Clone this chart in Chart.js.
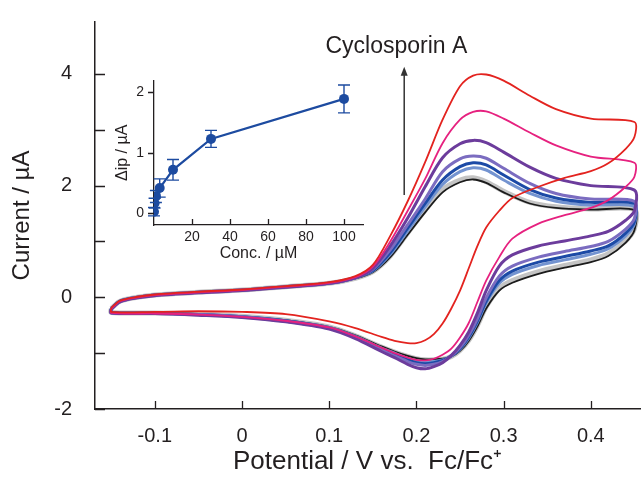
<!DOCTYPE html>
<html>
<head>
<meta charset="utf-8">
<script src="https://cdn.jsdelivr.net/npm/chart.js@4.4.1/dist/chart.umd.min.js"></script>
<style>
  html, body { margin: 0; padding: 0; background: #fff; }
  #wrap { position: relative; width: 642px; height: 478px; }
  #mainChart { position: absolute; left: 0; top: 0; }
  #insetChart { position: absolute; left: 100px; top: 70px; }
</style>
</head>
<body>
<div id="wrap">
  <canvas id="mainChart" width="642" height="478"></canvas>
  <canvas id="insetChart" width="275" height="200"></canvas>
</div>
<script>
// ---- potential grid (V vs Fc/Fc+) : forward (anodic) and reverse (cathodic) sweeps ----
const E_FWD = [-0.15, -0.14, -0.12, -0.10, -0.05, 0.00, 0.05, 0.10, 0.13, 0.15, 0.17, 0.19, 0.21, 0.23, 0.25, 0.265, 0.28, 0.30, 0.33, 0.36, 0.40, 0.45];
const E_REV = [0.45, 0.44, 0.42, 0.40, 0.37, 0.34, 0.31, 0.295, 0.28, 0.27, 0.26, 0.25, 0.24, 0.23, 0.22, 0.21, 0.20, 0.19, 0.175, 0.16, 0.13, 0.10, 0.05, 0.00, -0.05, -0.10, -0.15];

// ---- currents (uA), one pair of arrays per voltammogram ----
const blackFwd = [-0.20, -0.07, 0.00, 0.04, 0.09, 0.13, 0.19, 0.25, 0.34, 0.45, 0.72, 1.12, 1.52, 1.88, 2.06, 2.11, 2.05, 1.88, 1.68, 1.60, 1.57, 1.56];
const blackRev = [1.20, 0.98, 0.74, 0.63, 0.53, 0.42, 0.26, 0.12, -0.20, -0.52, -0.78, -0.96, -1.06, -1.10, -1.11, -1.11, -1.09, -1.05, -0.97, -0.88, -0.68, -0.53, -0.41, -0.34, -0.30, -0.28, -0.27];
const grayFwd = [-0.20, -0.07, 0.00, 0.04, 0.09, 0.13, 0.19, 0.25, 0.34, 0.46, 0.74, 1.15, 1.56, 1.93, 2.10, 2.14, 2.07, 1.90, 1.70, 1.62, 1.58, 1.57];
const grayRev = [1.23, 1.01, 0.78, 0.67, 0.57, 0.46, 0.30, 0.16, -0.17, -0.50, -0.77, -0.95, -1.06, -1.11, -1.12, -1.12, -1.10, -1.06, -0.98, -0.89, -0.69, -0.53, -0.41, -0.34, -0.30, -0.28, -0.27];
const lightBlueFwd = [-0.20, -0.07, 0.00, 0.04, 0.09, 0.13, 0.19, 0.25, 0.35, 0.47, 0.77, 1.19, 1.62, 2.02, 2.25, 2.32, 2.28, 2.10, 1.86, 1.72, 1.65, 1.63];
const lightBlueRev = [1.31, 1.10, 0.87, 0.77, 0.67, 0.57, 0.41, 0.25, -0.10, -0.45, -0.73, -0.93, -1.05, -1.12, -1.15, -1.16, -1.14, -1.10, -1.00, -0.91, -0.70, -0.54, -0.42, -0.35, -0.31, -0.28, -0.27];
const blueFwd = [-0.20, -0.07, 0.00, 0.04, 0.09, 0.13, 0.19, 0.25, 0.35, 0.48, 0.80, 1.24, 1.68, 2.10, 2.34, 2.41, 2.37, 2.19, 1.93, 1.78, 1.70, 1.68];
const blueRev = [1.35, 1.15, 0.92, 0.83, 0.73, 0.63, 0.47, 0.30, -0.07, -0.42, -0.71, -0.92, -1.05, -1.13, -1.17, -1.19, -1.17, -1.12, -1.03, -0.93, -0.71, -0.55, -0.42, -0.35, -0.31, -0.28, -0.27];
const lavenderFwd = [-0.21, -0.08, 0.00, 0.04, 0.09, 0.13, 0.19, 0.25, 0.35, 0.50, 0.85, 1.30, 1.76, 2.25, 2.48, 2.53, 2.49, 2.31, 2.04, 1.86, 1.76, 1.72];
const lavenderRev = [1.41, 1.22, 1.00, 0.91, 0.82, 0.72, 0.56, 0.38, -0.01, -0.38, -0.68, -0.90, -1.05, -1.15, -1.20, -1.22, -1.20, -1.15, -1.05, -0.94, -0.72, -0.55, -0.43, -0.35, -0.31, -0.29, -0.28];
const purpleFwd = [-0.21, -0.08, -0.01, 0.03, 0.08, 0.12, 0.18, 0.25, 0.35, 0.52, 0.92, 1.42, 1.98, 2.50, 2.75, 2.81, 2.77, 2.60, 2.33, 2.13, 2.00, 1.92];
const purpleRev = [1.55, 1.38, 1.18, 1.10, 1.01, 0.92, 0.76, 0.56, 0.12, -0.28, -0.62, -0.86, -1.04, -1.17, -1.24, -1.28, -1.26, -1.20, -1.08, -0.97, -0.74, -0.57, -0.44, -0.36, -0.32, -0.29, -0.28];
const magentaFwd = [-0.20, -0.07, 0.00, 0.04, 0.09, 0.13, 0.19, 0.26, 0.36, 0.55, 1.00, 1.55, 2.12, 2.76, 3.18, 3.32, 3.33, 3.20, 2.95, 2.72, 2.52, 2.41];
const magentaRev = [2.16, 1.98, 1.74, 1.60, 1.47, 1.32, 1.05, 0.72, 0.30, -0.08, -0.46, -0.72, -0.92, -1.03, -1.10, -1.13, -1.12, -1.08, -1.00, -0.90, -0.70, -0.54, -0.42, -0.35, -0.31, -0.29, -0.28];
const redFwd = [-0.19, -0.06, 0.01, 0.05, 0.10, 0.14, 0.20, 0.27, 0.38, 0.58, 1.10, 1.72, 2.42, 3.18, 3.78, 3.97, 3.99, 3.88, 3.61, 3.37, 3.20, 3.14];
const redRev = [2.87, 2.66, 2.40, 2.26, 2.14, 1.98, 1.78, 1.55, 1.25, 0.92, 0.52, 0.12, -0.20, -0.47, -0.66, -0.77, -0.82, -0.82, -0.78, -0.71, -0.55, -0.43, -0.30, -0.26, -0.25, -0.26, -0.26];

// ---- inset: peak current change vs concentration ----
const CONC = [0, 0.3, 1, 3, 10, 30, 100];
const DELTA_IP = [0.03, 0.17, 0.28, 0.42, 0.72, 1.23, 1.89];
const IP_ERR = [0.07, 0.08, 0.10, 0.15, 0.17, 0.14, 0.23];

// ---- axes ----
const X_MIN = -0.1686, X_MAX = 0.4564;
const Y_MIN = -2, Y_MAX = 4.93;
const INSET_X_MAX = 110;
const INSET_Y_MIN = -0.19, INSET_Y_MAX = 2.19;

// arrow + label, in data units
const ARROW_E = 0.186, ARROW_FROM = 1.83, ARROW_TO = 4.13;
const LABEL_E = 0.177, LABEL_I = 4.48;

const INK = '#231f20';
const FONT = '"Liberation Sans", Arial, Helvetica, sans-serif';

function loop(fwd, rev) {
  const pts = E_FWD.map((e, i) => ({ x: e, y: fwd[i] }))
    .concat(E_REV.map((e, i) => ({ x: e, y: rev[i] })));
  pts.push({ x: E_FWD[0], y: fwd[0] });
  return pts;
}

function cv(data, color, width, order) {
  return {
    data, order,
    borderColor: color,
    borderWidth: width,
    showLine: true,
    pointRadius: 0,
    tension: 0.3,
    fill: false,
  };
}

// keep the plot box fixed: no extra room for half tick labels
function fixBox(w, h) {
  return s => {
    if (w !== null) s.width = w;
    if (h !== null) s.height = h;
    s.paddingTop = 0; s.paddingBottom = 0;
    s.paddingLeft = 0; s.paddingRight = 0;
  };
}

// tick marks drawn from the scales (inward or outward)
const tickMarks = {
  id: 'tickMarks',
  afterDraw(chart, args, opts) {
    const { ctx, chartArea: a, scales: { x, y } } = chart;
    ctx.save();
    ctx.strokeStyle = INK;
    ctx.lineWidth = 1.3;
    ctx.beginPath();
    x.ticks.forEach(t => {
      if (opts.skipX && opts.skipX(t.value)) return;
      const px = Math.round(x.getPixelForValue(t.value)) + 0.5;
      ctx.moveTo(px, a.bottom);
      ctx.lineTo(px, a.bottom - opts.xLen);
    });
    y.ticks.forEach(t => {
      const py = Math.round(y.getPixelForValue(t.value)) + 0.5;
      ctx.moveTo(a.left, py);
      ctx.lineTo(a.left + opts.yLen, py);
    });
    ctx.stroke();
    ctx.restore();
  }
};

const arrowNote = {
  id: 'arrowNote',
  afterDraw(chart) {
    const { ctx, scales: { x, y } } = chart;
    const ax = x.getPixelForValue(ARROW_E);
    const y0 = y.getPixelForValue(ARROW_FROM);
    const y1 = y.getPixelForValue(ARROW_TO);
    ctx.save();
    ctx.strokeStyle = '#333';
    ctx.fillStyle = '#333';
    ctx.lineWidth = 1.5;
    ctx.beginPath();
    ctx.moveTo(ax, y0);
    ctx.lineTo(ax, y1 + 6);
    ctx.stroke();
    ctx.beginPath();
    ctx.moveTo(ax, y1);
    ctx.lineTo(ax - 3.5, y1 + 9);
    ctx.lineTo(ax + 3.5, y1 + 9);
    ctx.closePath();
    ctx.fill();
    ctx.fillStyle = INK;
    ctx.font = '23px ' + FONT;
    ctx.textAlign = 'center';
    ctx.textBaseline = 'middle';
    ctx.fillText('Cyclosporin A', x.getPixelForValue(LABEL_E), y.getPixelForValue(LABEL_I));
    ctx.restore();
  }
};

const errorBars = {
  id: 'errorBars',
  afterDatasetsDraw(chart) {
    const { ctx, scales: { y } } = chart;
    const meta = chart.getDatasetMeta(0);
    ctx.save();
    ctx.strokeStyle = '#1d4ba0';
    ctx.lineWidth = 1.4;
    ctx.beginPath();
    meta.data.forEach((pt, i) => {
      const top = y.getPixelForValue(DELTA_IP[i] + IP_ERR[i]);
      const bot = y.getPixelForValue(DELTA_IP[i] - IP_ERR[i]);
      ctx.moveTo(pt.x, top); ctx.lineTo(pt.x, bot);
      ctx.moveTo(pt.x - 6, top); ctx.lineTo(pt.x + 6, top);
      ctx.moveTo(pt.x - 6, bot); ctx.lineTo(pt.x + 6, bot);
    });
    ctx.stroke();
    ctx.restore();
  }
};

Chart.defaults.font.family = FONT;
Chart.defaults.color = INK;

// =============================================
// Main plot: cyclic voltammograms
// =============================================
new Chart(document.getElementById('mainChart'), {
  type: 'scatter',
  data: {
    datasets: [
      cv(loop(redFwd, redRev), '#e3231f', 1.8, 1),
      cv(loop(magentaFwd, magentaRev), '#e6217f', 1.8, 2),
      cv(loop(purpleFwd, purpleRev), '#6c3c9c', 3, 3),
      cv(loop(lavenderFwd, lavenderRev), '#7b6cc0', 3, 4),
      cv(loop(blueFwd, blueRev), '#1c4aa6', 3, 5),
      cv(loop(lightBlueFwd, lightBlueRev), '#7393d0', 3, 6),
      cv(loop(blackFwd, blackRev), '#1b1b1b', 1.8, 7),
      cv(loop(grayFwd, grayRev), '#c4c4c4', 5, 8),
    ]
  },
  options: {
    responsive: false,
    animation: false,
    layout: { padding: { top: 22, right: 2, left: 0, bottom: 0 } },
    plugins: {
      legend: { display: false },
      tooltip: { enabled: false },
      tickMarks: { xLen: 8, yLen: 10 }
    },
    scales: {
      x: {
        type: 'linear',
        min: X_MIN, max: X_MAX,
        afterFit: fixBox(null, 69),
        border: { color: INK, width: 1.5 },
        grid: { display: false, drawTicks: false },
        ticks: {
          stepSize: 0.1, includeBounds: false, padding: 15,
          font: { size: 20 },
          callback: v => Math.abs(v) < 1e-9 ? '0' : v.toFixed(1)
        },
        title: { display: true, text: 'Potential / V vs.  Fc/Fc\u207A', font: { size: 26 }, padding: { top: 0, bottom: 1 } }
      },
      y: {
        type: 'linear',
        min: Y_MIN, max: Y_MAX,
        afterFit: fixBox(95, null),
        border: { color: INK, width: 1.5 },
        grid: { display: false, drawTicks: false },
        ticks: {
          stepSize: 1, includeBounds: false, padding: 23,
          font: { size: 20 },
          callback: v => (Math.round(v) % 2 === 0 ? String(v) : '')
        },
        title: { display: true, text: 'Current / \u00B5A', font: { size: 24 }, padding: { top: 8, bottom: 0 } }
      }
    }
  },
  plugins: [tickMarks, arrowNote]
});

// =============================================
// Inset: delta ip vs concentration
// =============================================
new Chart(document.getElementById('insetChart'), {
  type: 'line',
  data: {
    datasets: [{
      data: CONC.map((c, i) => ({ x: c, y: DELTA_IP[i] })),
      borderColor: '#1d4ba0',
      backgroundColor: '#1d4ba0',
      borderWidth: 2.2,
      pointRadius: 5,
      pointBorderWidth: 0,
      tension: 0
    }]
  },
  options: {
    responsive: false,
    animation: false,
    layout: { padding: { top: 10.7, right: 12, left: 0, bottom: 0 } },
    plugins: {
      legend: { display: false },
      tooltip: { enabled: false },
      tickMarks: { xLen: 6, yLen: -6, skipX: v => v === 0 }
    },
    scales: {
      x: {
        type: 'linear',
        min: 0, max: INSET_X_MAX,
        afterFit: fixBox(null, 45),
        border: { color: INK, width: 1.3 },
        grid: { display: false, drawTicks: false },
        ticks: {
          stepSize: 20, includeBounds: false, padding: 4,
          font: { size: 14 },
          callback: v => (v === 0 ? '' : String(v))
        },
        title: { display: true, text: 'Conc. / \u00B5M', font: { size: 16 }, padding: { top: 0, bottom: 7 } }
      },
      y: {
        type: 'linear',
        min: INSET_Y_MIN, max: INSET_Y_MAX,
        afterFit: fixBox(54, null),
        border: { color: INK, width: 1.3 },
        grid: { display: false, drawTicks: false },
        ticks: {
          stepSize: 1, includeBounds: false, padding: 10,
          font: { size: 14 },
          callback: v => String(v)
        },
        title: { display: true, text: '\u0394ip / \u00B5A', font: { size: 16 }, padding: { top: 13, bottom: 0 } }
      }
    }
  },
  plugins: [tickMarks, errorBars]
});
</script>
</body>
</html>
